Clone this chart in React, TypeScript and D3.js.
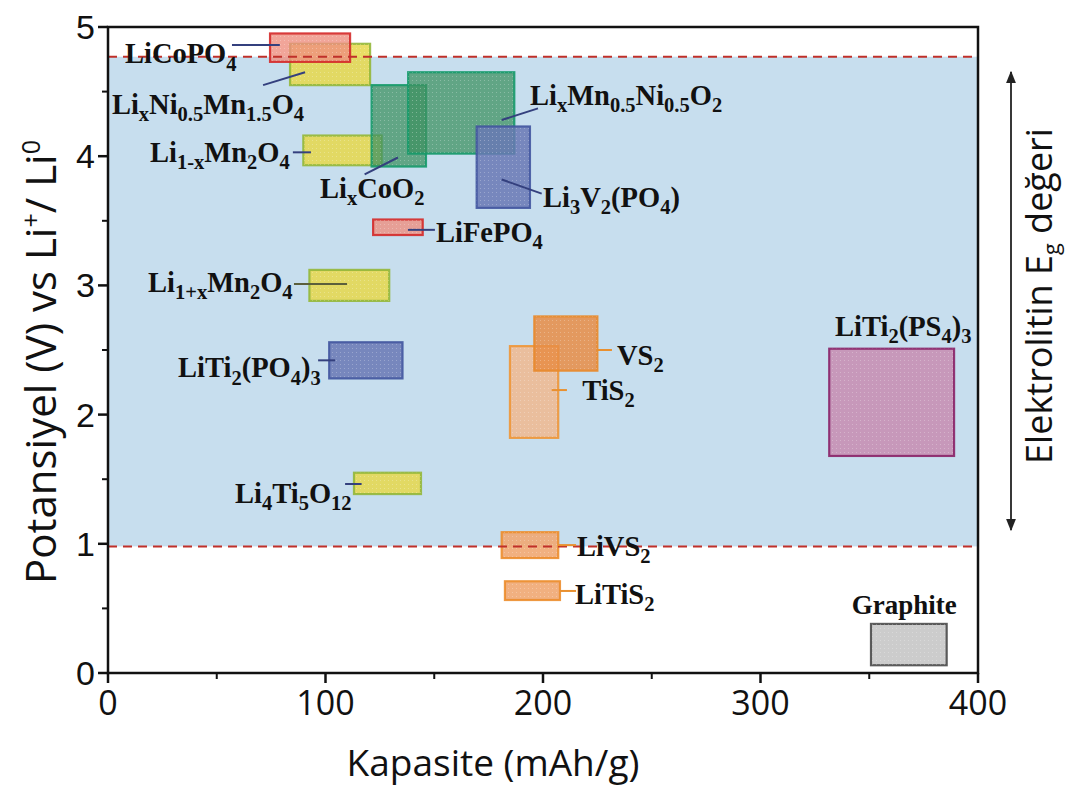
import React from 'react';
import * as d3 from 'd3';

const W = 1070;
const H = 787;

const xTicks = [0, 100, 200, 300, 400];
const xMinorTicks = [50, 150, 250, 350];
const yTicks = [0, 1, 2, 3, 4, 5];
const yMinorTicks = [0.5, 1.5, 2.5, 3.5, 4.5];

const windowLow = 0.98;
const windowHigh = 4.77;

// capacity range (mAh/g) and voltage range (V)
const materialNames = [
  'LiTi2(PS4)3', 'Graphite', 'TiS2', 'VS2', 'LiVS2', 'LiTiS2',
  'LixNi0.5Mn1.5O4', 'LiCoPO4', 'Li1-xMn2O4', 'LixCoO2', 'LixMn0.5Ni0.5O2', 'Li3V2(PO4)',
  'LiFePO4', 'Li1+xMn2O4', 'LiTi2(PO4)3', 'Li4Ti5O12',
];
const capMin = [331.6, 350.8, 184.8, 196, 181, 182.5, 83.7, 74.5, 89.8, 121.2, 138, 169.5, 121.9, 92.6, 101.7, 113.1];
const capMax = [389, 385.6, 207, 225, 207, 207.8, 120.5, 111.3, 125.8, 146.2, 186.8, 194, 144.7, 129.3, 135.4, 143.9];
const vMin = [1.68, 0.06, 1.82, 2.34, 0.89, 0.565, 4.55, 4.73, 3.93, 3.92, 4.02, 3.6, 3.39, 2.88, 2.28, 1.385];
const vMax = [2.51, 0.38, 2.53, 2.76, 1.09, 0.71, 4.87, 4.95, 4.16, 4.55, 4.65, 4.23, 3.51, 3.12, 2.56, 1.55];
const groups = ['purple', 'gray', 'orangeLight', 'orange', 'orangeMid', 'orangeMid',
  'yellow', 'red', 'yellow', 'green', 'green', 'blue', 'red', 'yellow', 'blue', 'yellow'];

const palette: Record<string, { fill: string; stroke: string; op: number }> = {
  purple: { fill: '#c794b6', stroke: '#8a2468', op: 0.95 },
  gray: { fill: '#cccccc', stroke: '#4a4a4a', op: 1 },
  orangeLight: { fill: '#f0b88e', stroke: '#ee9637', op: 0.85 },
  orange: { fill: '#e88d45', stroke: '#e8892c', op: 0.85 },
  orangeMid: { fill: '#f0a772', stroke: '#ec8d2c', op: 0.9 },
  yellow: { fill: '#e6d84a', stroke: '#93b73a', op: 0.85 },
  red: { fill: '#ee8f80', stroke: '#d42a2a', op: 0.8 },
  green: { fill: '#3f9262', stroke: '#169a6a', op: 0.75 },
  blue: { fill: '#6878b4', stroke: '#4357a0', op: 0.85 },
};

// label annotations: text (formula markup), text anchor point and leader line, in data units
const labelTexts = [
  'LiCoPO_{4}', 'Li_{x}Ni_{0.5}Mn_{1.5}O_{4}', 'Li_{1-x}Mn_{2}O_{4}', 'Li_{x}CoO_{2}',
  'Li_{x}Mn_{0.5}Ni_{0.5}O_{2}', 'Li_{3}V_{2}(PO_{4})', 'LiFePO_{4}', 'Li_{1+x}Mn_{2}O_{4}',
  'LiTi_{2}(PO_{4})_{3}', 'Li_{4}Ti_{5}O_{12}', 'VS_{2}', 'TiS_{2}', 'LiVS_{2}', 'LiTiS_{2}',
  'LiTi_{2}(PS_{4})_{3}', 'Graphite',
];
const labelCap = [7.8, 1.8, 19.3, 97.5, 194, 200, 150.8, 18.4, 32.2, 58.4, 234, 218, 215.6, 214.7, 334.3, 342];
const labelV = [4.72, 4.33, 3.955, 3.676, 4.40, 3.61, 3.336, 2.95, 2.29, 1.316, 2.384, 2.113, 0.906, 0.534, 2.61, 0.457];
const leaderCap0 = [57, 71.3, 85, 118, 181, 181, 137.9, 85.5, 96.6, 109, 224.8, 204, 206.9, 207.8, NaN, NaN];
const leaderV0 = [4.86, 4.55, 4.03, 3.86, 4.28, 3.82, 3.43, 3.01, 2.42, 1.463, 2.5, 2.19, 0.99, 0.635, NaN, NaN];
const leaderCap1 = [79, 90.6, 93.3, 133.3, 197.7, 199.4, 150.3, 109.9, 104.4, 116.6, 231.7, 211, 215.2, 215.2, NaN, NaN];
const leaderV1 = [4.86, 4.65, 4.03, 3.99, 4.37, 3.71, 3.43, 3.01, 2.42, 1.463, 2.5, 2.19, 0.99, 0.635, NaN, NaN];
const leaderKind = ['navy', 'navy', 'navy', 'navy', 'navy', 'navy', 'navy', 'olive', 'navy', 'navy',
  'orange', 'orange', 'orange', 'orange', 'none', 'none'];

const leaderColors: Record<string, string> = { navy: '#34407e', olive: '#5b5f3c', orange: '#e9902f', none: 'none' };

const xTitle = 'Kapasite (mAh/g)';
const yTitle = 'Potansiyel (V) vs Li^{+}/ Li^{0}';
const sideTitle = 'Elektrolitin E_{g} değeri';

type Tok = { t: string; k: 'n' | 'sub' | 'sup' };
function tokenize(s: string): Tok[] {
  const out: Tok[] = [];
  const re = /([_^])\{([^}]*)\}|([^_^]+)/g;
  let m: RegExpExecArray | null;
  while ((m = re.exec(s))) {
    if (m[1]) out.push({ t: m[2], k: m[1] === '_' ? 'sub' : 'sup' });
    else out.push({ t: m[3], k: 'n' });
  }
  return out;
}

function Formula({ s, fs, subScale = 0.72, subShift = 0.26, supShift = 0.38 }: { s: string; fs: number; subScale?: number; subShift?: number; supShift?: number }) {
  const toks = tokenize(s);
  let cur = 0;
  return (
    <>
      {toks.map((tk, i) => {
        let target = 0;
        let size = fs;
        if (tk.k === 'sub') { target = fs * subShift; size = fs * subScale; }
        if (tk.k === 'sup') { target = -fs * supShift; size = fs * subScale; }
        const dy = target - cur;
        cur = target;
        return (
          <tspan key={i} dy={dy} fontSize={size}>{tk.t}</tspan>
        );
      })}
    </>
  );
}

export default function App() {
  const x = d3.scaleLinear().domain([0, 400]).range([108, 978]);
  const y = d3.scaleLinear().domain([0, 5]).range([673, 27]);
  const [x0, x1] = x.range();
  const [yb, yt] = y.range();

  const serif = '"Liberation Serif", "Times New Roman", serif';
  const sans = '"Open Sans", "Noto Sans", sans-serif';
  const labelFs = 28.5;

  return (
    <svg width={W} height={H} style={{ position: 'absolute', left: 0, top: 0, background: '#fff' }}>
      <defs>
        <marker id="ah" viewBox="0 0 10 10" refX="9" refY="5" markerWidth="7" markerHeight="9" orient="auto-start-reverse">
          <path d="M0,1 L10,5 L0,9 z" fill="#222" />
        </marker>
        <pattern id="dots" width="4" height="4" patternUnits="userSpaceOnUse">
          <rect x="0" y="0" width="1" height="1" fill="#ffffff" opacity="0.25" />
        </pattern>
      </defs>

      {/* electrolyte window band */}
      <rect x={x0} y={y(windowHigh)} width={x1 - x0} height={y(windowLow) - y(windowHigh)} fill="#c7deee" />

      {/* material boxes */}
      {materialNames.map((n, i) => {
        const p = palette[groups[i]];
        return (
          <g key={n}>
            <rect
              x={x(capMin[i])} y={y(vMax[i])}
              width={x(capMax[i]) - x(capMin[i])} height={y(vMin[i]) - y(vMax[i])}
              fill={p.fill} fillOpacity={p.op} stroke={p.stroke} strokeWidth={2.2} strokeOpacity={0.9}
            />
            <rect
              x={x(capMin[i])} y={y(vMax[i])}
              width={x(capMax[i]) - x(capMin[i])} height={y(vMin[i]) - y(vMax[i])}
              fill="url(#dots)"
            />
          </g>
        );
      })}

      {/* dashed window limits */}
      {[windowHigh, windowLow].map((v) => (
        <line key={v} x1={x0} x2={x1} y1={y(v)} y2={y(v)} stroke="#c0302a" strokeWidth={2} strokeDasharray="9 6" />
      ))}

      {/* leader lines */}
      {labelTexts.map((t, i) => leaderKind[i] === 'none' ? null : (
        <line key={'l' + i} x1={x(leaderCap0[i])} y1={y(leaderV0[i])} x2={x(leaderCap1[i])} y2={y(leaderV1[i])}
          stroke={leaderColors[leaderKind[i]]} strokeWidth={2} />
      ))}

      {/* labels */}
      {labelTexts.map((t, i) => {
        const fs = t === 'Graphite' ? 27 : labelFs;
        return (
          <text key={'t' + i} x={x(labelCap[i])} y={y(labelV[i])} fontFamily={serif} fontWeight="bold"
            fontSize={fs} fill="#111">
            <Formula s={t} fs={fs} />
          </text>
        );
      })}

      {/* frame */}
      <rect x={x0} y={yt} width={x1 - x0} height={yb - yt} fill="none" stroke="#111" strokeWidth={2.5} />

      {/* x ticks */}
      {xTicks.map((v) => (
        <g key={'xt' + v}>
          <line x1={x(v)} x2={x(v)} y1={yb} y2={yb + 10} stroke="#111" strokeWidth={2.5} />
          <text x={x(v)} y={yb + 42} textAnchor="middle" fontFamily={sans} fontSize={34} fill="#111">{v}</text>
        </g>
      ))}
      {xMinorTicks.map((v) => (
        <line key={'xm' + v} x1={x(v)} x2={x(v)} y1={yb} y2={yb + 6} stroke="#111" strokeWidth={2} />
      ))}

      {/* y ticks */}
      {yTicks.map((v) => (
        <g key={'yt' + v}>
          <line x1={x0 - 10} x2={x0} y1={y(v)} y2={y(v)} stroke="#111" strokeWidth={2.5} />
          <text x={x0 - 13} y={y(v) + 12} textAnchor="end" fontFamily='"Liberation Sans", Arial, sans-serif' fontSize={34} fill="#111">{v}</text>
        </g>
      ))}
      {yMinorTicks.map((v) => (
        <line key={'ym' + v} x1={x0 - 6} x2={x0} y1={y(v)} y2={y(v)} stroke="#111" strokeWidth={2} />
      ))}

      {/* axis titles */}
      <text x={493} y={776} textAnchor="middle" fontFamily={sans} fontSize={37} fill="#111">{xTitle}</text>
      <text transform={`translate(56, ${362}) rotate(-90)`} textAnchor="middle" fontFamily={sans} fontSize={42} fill="#111">
        <Formula s={yTitle} fs={42} subScale={0.6} />
      </text>

      {/* right-hand annotation */}
      <line x1={1011} x2={1011} y1={530} y2={72} stroke="#222" strokeWidth={1.8} markerStart="url(#ah)" markerEnd="url(#ah)" />
      <text transform={`translate(1052, ${296}) rotate(-90)`} textAnchor="middle" fontFamily={sans} fontSize={36} fill="#111">
        <Formula s={sideTitle} fs={36} subScale={0.6} subShift={0.2} />
      </text>
    </svg>
  );
}
